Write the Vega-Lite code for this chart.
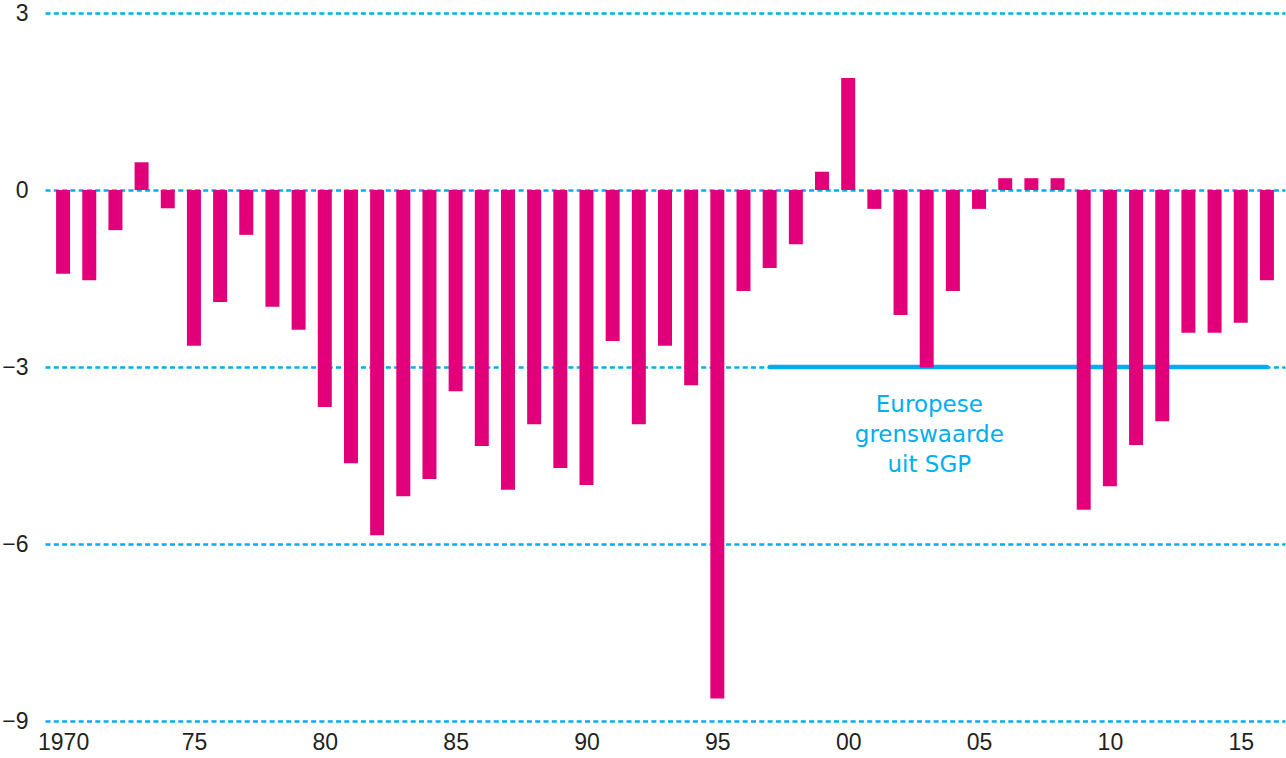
{
  "$schema": "https://vega.github.io/schema/vega-lite/v6.json",
  "autosize": {"type": "none"},
  "width": 1240,
  "height": 708,
  "padding": {"left": 45, "top": 13, "right": 1, "bottom": 37},
  "background": "white",
  "config": {
    "view": {"stroke": null},
    "axis": {"labelFont": "Liberation Sans", "labelFontSize": 23, "labelColor": "#231F20", "domain": false, "ticks": false, "title": null}
  },
  "datasets": {
    "bars": [
      {"year": 1970, "value": -1.42}, {"year": 1971, "value": -1.53}, {"year": 1972, "value": -0.68},
      {"year": 1973, "value": 0.47}, {"year": 1974, "value": -0.31}, {"year": 1975, "value": -2.64},
      {"year": 1976, "value": -1.90}, {"year": 1977, "value": -0.76}, {"year": 1978, "value": -1.98},
      {"year": 1979, "value": -2.37}, {"year": 1980, "value": -3.68}, {"year": 1981, "value": -4.63},
      {"year": 1982, "value": -5.85}, {"year": 1983, "value": -5.19}, {"year": 1984, "value": -4.90},
      {"year": 1985, "value": -3.41}, {"year": 1986, "value": -4.34}, {"year": 1987, "value": -5.08},
      {"year": 1988, "value": -3.97}, {"year": 1989, "value": -4.71}, {"year": 1990, "value": -5.00},
      {"year": 1991, "value": -2.56}, {"year": 1992, "value": -3.97}, {"year": 1993, "value": -2.64},
      {"year": 1994, "value": -3.31}, {"year": 1995, "value": -8.62}, {"year": 1996, "value": -1.71},
      {"year": 1997, "value": -1.32}, {"year": 1998, "value": -0.92}, {"year": 1999, "value": 0.31},
      {"year": 2000, "value": 1.90}, {"year": 2001, "value": -0.32}, {"year": 2002, "value": -2.12},
      {"year": 2003, "value": -3.01}, {"year": 2004, "value": -1.71}, {"year": 2005, "value": -0.32},
      {"year": 2006, "value": 0.20}, {"year": 2007, "value": 0.20}, {"year": 2008, "value": 0.20},
      {"year": 2009, "value": -5.42}, {"year": 2010, "value": -5.02}, {"year": 2011, "value": -4.32},
      {"year": 2012, "value": -3.92}, {"year": 2013, "value": -2.42}, {"year": 2014, "value": -2.42},
      {"year": 2015, "value": -2.25}, {"year": 2016, "value": -1.53}
    ],
    "sgp": [{"start": 1997, "end": 2016, "value": -3}],
    "label": [{"year": 2003.1, "value": -3.76, "text": "Europese\ngrenswaarde\nuit SGP"}]
  },
  "layer": [
    {
      "data": {"name": "sgp"},
      "mark": {"type": "rule", "color": "#00AEEF", "strokeWidth": 4.5, "strokeCap": "round"},
      "encoding": {
        "x": {"field": "start", "type": "quantitative", "scale": {"domain": [1969.5, 2016.5], "nice": false, "zero": false},
          "axis": {"values": [1970, 1975, 1980, 1985, 1990, 1995, 2000, 2005, 2010, 2015], "format": "d", "grid": false, "labelPadding": 10,
            "labelExpr": "datum.value == 1970 ? '1970' : substring(datum.label, 2)"}},
        "x2": {"field": "end"},
        "y": {"field": "value", "type": "quantitative", "scale": {"domain": [-9, 3], "nice": false},
          "axis": {"values": [3, 0, -3, -6, -9], "format": "d", "grid": true, "gridColor": "#00AEEF", "gridWidth": 2.5, "gridDash": [5, 3.3], "gridOpacity": 1, "labelPadding": 17}}
      }
    },
    {
      "data": {"name": "bars"},
      "mark": {"type": "bar", "color": "#E2007A", "width": 14},
      "encoding": {
        "x": {"field": "year", "type": "quantitative"},
        "y": {"field": "value", "type": "quantitative"},
        "y2": {"datum": 0}
      }
    },
    {
      "data": {"name": "label"},
      "mark": {"type": "text", "font": "DejaVu Sans", "fontSize": 23, "color": "#00AEEF", "align": "center", "baseline": "alphabetic", "lineBreak": "\n", "lineHeight": 30},
      "encoding": {
        "x": {"field": "year", "type": "quantitative"},
        "y": {"field": "value", "type": "quantitative"},
        "text": {"field": "text"}
      }
    }
  ]
}
